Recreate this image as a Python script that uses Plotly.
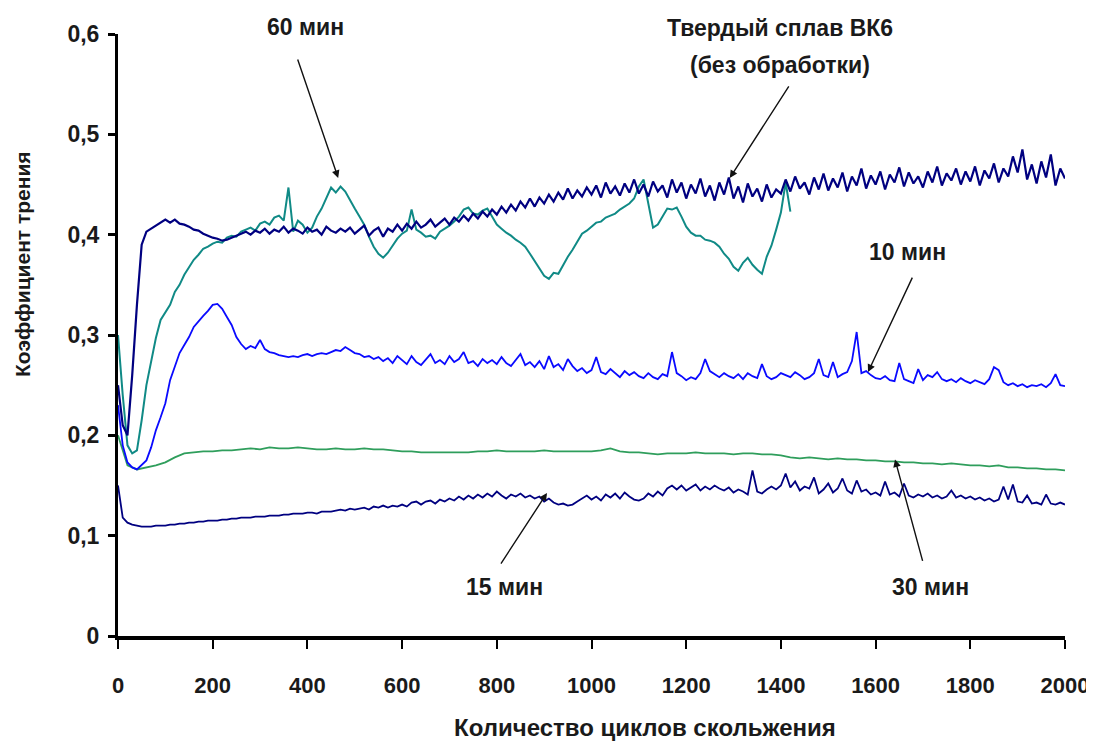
import plotly.graph_objects as go

# ---------------- data ----------------
X10 = list(range(0, 2001, 10))
X20 = list(range(0, 2001, 20))
X60 = list(range(0, 1421, 10))

vk6 = [0.25,0.21,0.20,0.26,0.33,0.39,0.403,0.406,0.409,0.412,
       0.415,0.412,0.415,0.411,0.41,0.408,0.405,0.404,0.401,0.399,
       0.397,0.396,0.394,0.395,0.397,0.399,0.401,0.403,0.400,0.404,
       0.402,0.406,0.401,0.405,0.403,0.408,0.402,0.406,0.404,0.401,
       0.407,0.403,0.405,0.400,0.408,0.404,0.402,0.406,0.403,0.407,
       0.401,0.405,0.409,0.399,0.404,0.407,0.398,0.406,0.403,0.410,
       0.404,0.411,0.406,0.413,0.407,0.410,0.415,0.408,0.412,0.416,
       0.410,0.417,0.413,0.419,0.414,0.421,0.416,0.423,0.418,0.425,
       0.420,0.428,0.422,0.430,0.424,0.433,0.427,0.436,0.428,0.437,
       0.431,0.440,0.433,0.442,0.435,0.446,0.436,0.444,0.438,0.447,
       0.440,0.449,0.437,0.452,0.441,0.448,0.439,0.451,0.442,0.455,
       0.441,0.450,0.438,0.453,0.443,0.449,0.437,0.455,0.442,0.452,
       0.436,0.450,0.441,0.456,0.438,0.449,0.434,0.452,0.440,0.457,
       0.436,0.448,0.432,0.451,0.438,0.446,0.433,0.450,0.437,0.445,
       0.441,0.455,0.443,0.458,0.446,0.452,0.440,0.457,0.445,0.461,
       0.444,0.456,0.447,0.462,0.443,0.458,0.449,0.466,0.446,0.459,
       0.450,0.463,0.445,0.460,0.452,0.467,0.448,0.462,0.451,0.458,
       0.447,0.463,0.452,0.468,0.449,0.461,0.454,0.466,0.450,0.463,
       0.453,0.468,0.449,0.464,0.456,0.471,0.452,0.466,0.458,0.478,
       0.462,0.485,0.455,0.470,0.451,0.473,0.457,0.480,0.449,0.466,
       0.456]

min60 = [0.30,0.24,0.19,0.182,0.185,0.215,0.25,0.275,0.297,0.315,
         0.322,0.33,0.343,0.35,0.36,0.368,0.375,0.38,0.386,0.388,
         0.391,0.393,0.392,0.397,0.399,0.398,0.403,0.405,0.407,0.404,
         0.411,0.413,0.41,0.417,0.419,0.414,0.447,0.403,0.414,0.41,
         0.402,0.407,0.418,0.426,0.437,0.447,0.442,0.448,0.443,0.434,
         0.426,0.418,0.41,0.398,0.388,0.381,0.377,0.382,0.389,0.396,
         0.401,0.404,0.425,0.405,0.402,0.398,0.399,0.396,0.403,0.406,
         0.409,0.413,0.418,0.425,0.427,0.421,0.42,0.424,0.426,0.418,
         0.41,0.406,0.402,0.399,0.395,0.392,0.388,0.381,0.374,0.366,
         0.359,0.356,0.362,0.361,0.37,0.378,0.385,0.393,0.401,0.404,
         0.408,0.412,0.413,0.417,0.419,0.421,0.425,0.428,0.431,0.436,
         0.448,0.455,0.43,0.407,0.41,0.418,0.426,0.425,0.427,0.418,
         0.408,0.402,0.399,0.399,0.395,0.394,0.392,0.388,0.381,0.376,
         0.368,0.364,0.372,0.377,0.37,0.365,0.361,0.378,0.389,0.405,
         0.422,0.452,0.423]

min10 = [0.23,0.19,0.173,0.168,0.166,0.17,0.175,0.188,0.205,0.218,
         0.232,0.255,0.268,0.282,0.29,0.298,0.308,0.314,0.319,0.324,
         0.33,0.331,0.326,0.318,0.31,0.298,0.291,0.286,0.289,0.287,
         0.295,0.286,0.283,0.282,0.28,0.279,0.278,0.279,0.278,0.28,
         0.281,0.279,0.281,0.282,0.281,0.283,0.285,0.284,0.288,0.285,
         0.282,0.281,0.278,0.279,0.276,0.278,0.274,0.277,0.272,0.279,
         0.275,0.271,0.279,0.273,0.27,0.276,0.281,0.272,0.275,0.271,
         0.279,0.273,0.276,0.283,0.272,0.274,0.269,0.276,0.272,0.275,
         0.271,0.278,0.272,0.269,0.275,0.281,0.27,0.273,0.268,0.274,
         0.266,0.279,0.268,0.271,0.265,0.276,0.269,0.264,0.267,0.262,
         0.265,0.278,0.263,0.261,0.266,0.262,0.258,0.264,0.26,0.263,
         0.259,0.257,0.262,0.258,0.256,0.261,0.259,0.283,0.262,0.259,
         0.255,0.258,0.256,0.262,0.276,0.264,0.261,0.258,0.262,0.259,
         0.257,0.261,0.256,0.262,0.259,0.257,0.271,0.259,0.256,0.258,
         0.262,0.26,0.258,0.263,0.26,0.256,0.258,0.262,0.276,0.26,
         0.258,0.273,0.258,0.261,0.263,0.274,0.303,0.262,0.264,0.26,
         0.257,0.256,0.259,0.255,0.254,0.272,0.256,0.254,0.252,0.266,
         0.255,0.26,0.258,0.263,0.256,0.254,0.256,0.253,0.257,0.254,
         0.252,0.255,0.253,0.251,0.256,0.268,0.265,0.253,0.25,0.252,
         0.249,0.251,0.248,0.25,0.249,0.251,0.248,0.252,0.261,0.25,
         0.249]

min30 = [0.2,0.17,0.166,0.168,0.17,0.173,0.178,0.182,0.183,0.184,
         0.184,0.185,0.185,0.186,0.187,0.186,0.188,0.187,0.187,0.188,
         0.187,0.186,0.186,0.187,0.186,0.186,0.187,0.186,0.186,0.185,
         0.184,0.184,0.183,0.183,0.183,0.183,0.183,0.183,0.184,0.184,
         0.185,0.184,0.184,0.184,0.184,0.185,0.184,0.184,0.184,0.184,
         0.184,0.185,0.187,0.184,0.183,0.183,0.182,0.181,0.182,0.182,
         0.182,0.183,0.182,0.182,0.182,0.181,0.182,0.182,0.181,0.181,
         0.18,0.178,0.177,0.178,0.177,0.176,0.177,0.176,0.176,0.175,
         0.175,0.174,0.174,0.173,0.173,0.172,0.172,0.171,0.172,0.171,
         0.17,0.17,0.169,0.17,0.168,0.168,0.167,0.167,0.166,0.166,
         0.165]

min15 = [0.15,0.118,0.113,0.111,0.11,0.109,0.109,0.109,0.11,0.11,
         0.11,0.111,0.111,0.112,0.112,0.113,0.113,0.114,0.114,0.115,
         0.115,0.115,0.116,0.116,0.117,0.117,0.118,0.118,0.118,0.119,
         0.119,0.119,0.12,0.12,0.12,0.121,0.121,0.122,0.122,0.122,
         0.123,0.123,0.122,0.124,0.124,0.124,0.125,0.126,0.125,0.127,
         0.126,0.127,0.128,0.126,0.129,0.128,0.13,0.128,0.13,0.129,
         0.131,0.129,0.133,0.134,0.131,0.134,0.135,0.132,0.136,0.134,
         0.137,0.135,0.139,0.136,0.14,0.137,0.141,0.138,0.142,0.139,
         0.144,0.14,0.137,0.141,0.139,0.142,0.138,0.14,0.137,0.139,
         0.134,0.137,0.133,0.131,0.132,0.13,0.131,0.134,0.137,0.14,
         0.136,0.139,0.135,0.141,0.138,0.142,0.137,0.143,0.139,0.136,
         0.135,0.137,0.142,0.139,0.144,0.14,0.147,0.15,0.146,0.15,
         0.145,0.148,0.151,0.145,0.149,0.146,0.15,0.147,0.145,0.148,
         0.143,0.146,0.144,0.141,0.165,0.144,0.142,0.146,0.149,0.146,
         0.15,0.162,0.148,0.154,0.145,0.149,0.147,0.158,0.142,0.146,
         0.152,0.143,0.147,0.157,0.145,0.142,0.155,0.144,0.146,0.141,
         0.143,0.14,0.154,0.141,0.143,0.139,0.152,0.14,0.138,0.141,
         0.139,0.142,0.138,0.14,0.137,0.139,0.145,0.138,0.14,0.137,
         0.139,0.136,0.138,0.135,0.137,0.134,0.136,0.149,0.136,0.151,
         0.134,0.133,0.14,0.132,0.133,0.131,0.141,0.132,0.131,0.133,
         0.131]

y_ticks = [0, 0.1, 0.2, 0.3, 0.4, 0.5, 0.6]
y_labels = ["0", "0,1", "0,2", "0,3", "0,4", "0,5", "0,6"]
x_ticks = [0, 200, 400, 600, 800, 1000, 1200, 1400, 1600, 1800, 2000]

# ---------------- figure ----------------
NAVY = "#000080"
BLUE = "#0a0aff"
TEAL = "#108a86"
GREEN = "#2f9e5c"

fig = go.Figure()
fig.add_trace(go.Scatter(x=X10, y=min15, mode="lines", line=dict(color=NAVY, width=1.8), name="15 мин"))
fig.add_trace(go.Scatter(x=X20, y=min30, mode="lines", line=dict(color=GREEN, width=1.8), name="30 мин"))
fig.add_trace(go.Scatter(x=X10, y=min10, mode="lines", line=dict(color=BLUE, width=1.8), name="10 мин"))
fig.add_trace(go.Scatter(x=X60, y=min60, mode="lines", line=dict(color=TEAL, width=2.0), name="60 мин"))
fig.add_trace(go.Scatter(x=X10, y=vk6, mode="lines", line=dict(color=NAVY, width=2.2), name="ВК6"))

FAM = "Liberation Sans, Arial, sans-serif"
ANN = dict(family=FAM, size=23, color="#1a1a1a", weight="bold")
YTICK = dict(family=FAM, size=23, color="#1a1a1a", weight="bold")
XTICK = dict(family=FAM, size=22, color="#1a1a1a", weight="bold")
YTITLE = dict(family=FAM, size=21, color="#1a1a1a", weight="bold")
XTITLE = dict(family=FAM, size=24, color="#1a1a1a", weight="bold")

# text labels: (text, x in data units, y as fraction of plot height)
labels = [
    ("60 мин", 395, 1.012),
    ("Твердый сплав ВК6", 1398, 1.010),
    ("(без обработки)", 1398, 0.948),
    ("10 мин", 1668, 0.638),
    ("15 мин", 817, 0.082),
    ("30 мин", 1715, 0.082),
]
for t, x, y in labels:
    fig.add_annotation(x=x, y=y, xref="x", yref="paper", text=t, showarrow=False,
                       xanchor="center", yanchor="middle", font=ANN)

arrows = [
    (465, 0.4565, -41, -120),
    (1292, 0.4565, 60, -93),
    (1584, 0.263, 45, -96),
    (906, 0.1425, -47, 72),
    (1641, 0.176, 28, 103),
]
for x, y, ax, ay in arrows:
    fig.add_annotation(x=x, y=y, xref="x", yref="y", text="", showarrow=True,
                       ax=ax, ay=ay, arrowhead=2, arrowsize=1.1, arrowwidth=1.4,
                       arrowcolor="#111111", standoff=0)

# axis titles
fig.add_annotation(x=0.5565, y=-0.1528, xref="paper", yref="paper", text="Количество циклов скольжения",
                   showarrow=False, xanchor="center", yanchor="middle", font=XTITLE)
fig.add_annotation(x=-0.1003, y=0.618, xref="paper", yref="paper", text="Коэффициент трения",
                   showarrow=False, xanchor="center", yanchor="middle", textangle=-90, font=YTITLE)

fig.update_layout(
    width=1086, height=734,
    margin=dict(l=110, r=29, t=26, b=106),
    paper_bgcolor="white", plot_bgcolor="white",
    showlegend=False,
    xaxis=dict(range=[0, 2000], tickvals=x_ticks, showgrid=False, zeroline=False,
               showline=True, linecolor="black", linewidth=4, automargin=False,
               ticks="outside", ticklen=9, tickwidth=2, tickcolor="black",
               tickfont=XTICK, ticklabelstandoff=18),
    yaxis=dict(range=[0, 0.6], tickvals=y_ticks, ticktext=y_labels, showgrid=False, zeroline=False,
               showline=True, linecolor="black", linewidth=3, automargin=False,
               ticks="outside", ticklen=7, tickwidth=3, tickcolor="black",
               tickfont=YTICK, ticklabelstandoff=4),
)

fig.write_html("out.html")
